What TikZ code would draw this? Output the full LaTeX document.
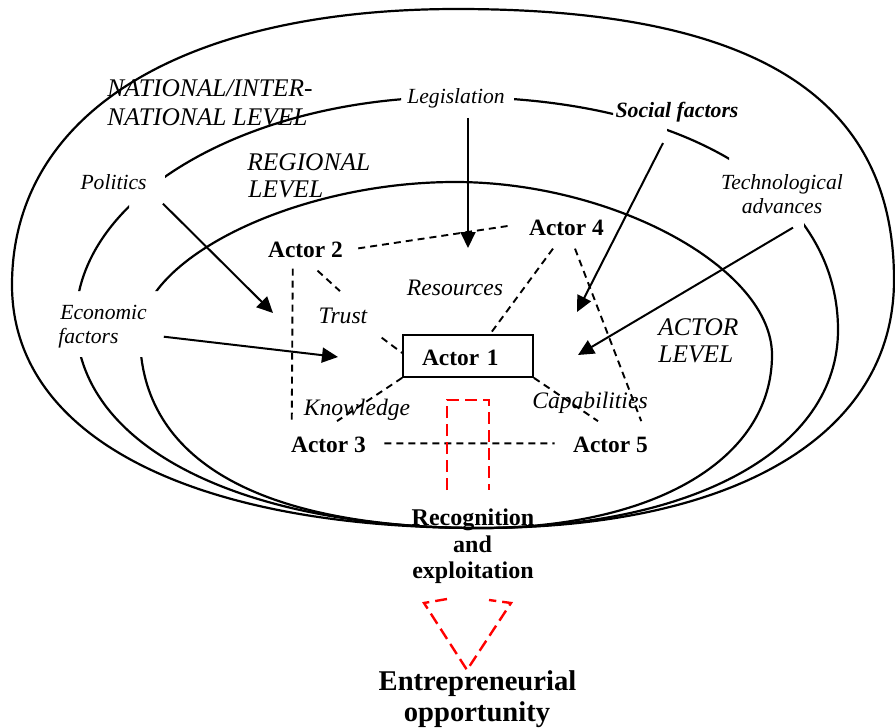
\documentclass[tikz,border=0pt]{standalone}
\usepackage{fontspec}
\setmainfont{Liberation Serif}
\usetikzlibrary{arrows.meta}
\begin{document}
\begin{tikzpicture}[x=0.5pt,y=-0.5pt,
  curve/.style={line width=1.1pt,line join=round},
  arr/.style={line width=1pt,-{Triangle[length=8pt,width=7.5pt]}},
  dashln/.style={line width=0.95pt,dash pattern=on 3.5pt off 2.5pt},
  reddash/.style={line width=1.2pt,draw=red,dash pattern=on 6pt off 3pt},
  lbl/.style={inner sep=0pt,font=\fontsize{10.8}{13}\selectfont\itshape},
  blbl/.style={inner sep=0pt,font=\fontsize{10.9}{13}\selectfont\bfseries\itshape},
  ilbl/.style={inner sep=0pt,font=\fontsize{11.8}{14}\selectfont\itshape},
  lvl/.style={inner sep=0pt,font=\fontsize{12.7}{15}\selectfont\itshape},
  actor/.style={inner sep=0pt,font=\fontsize{11.7}{14}\selectfont\bfseries},
  outcome/.style={inner sep=0pt,font=\fontsize{12}{14}\selectfont\bfseries},
  bigout/.style={inner sep=0pt,font=\fontsize{14.3}{16}\selectfont\bfseries},
]
\useasboundingbox (0,0) rectangle (895,728);

% outer level boundary
\draw[curve] (457,9) .. controls (754,9) and (894,96) .. (894,280)
  .. controls (894,434) and (737,528) .. (480,528)
  .. controls (190,528) and (12,436) .. (12,285)
  .. controls (12,114) and (181,9) .. (457,9) -- cycle;

% inner boundaries, broken where the factor labels sit
\begin{scope}
  \clip (0,0) -- (895,0) -- (895,728) -- (0,728) -- cycle
        (40,291) -- (40,357) -- (175,357) -- (175,291) -- cycle
        (129,150) -- (129,225) -- (165,225) -- (165,150) -- cycle
        (401,75) -- (401,120) -- (514,120) -- (514,75) -- cycle
        (613,100) -- (613,150) -- (667,150) -- (667,100) -- cycle
        (729,140) -- (729,245) -- (804,245) -- (804,140) -- cycle;
  % national / regional boundary
  \draw[curve] (455,97) .. controls (685,97) and (838,190) .. (838,330)
    .. controls (838,449) and (695,528) .. (480,528)
    .. controls (238,528) and (76,445) .. (76,320)
    .. controls (76,197) and (247,97) .. (455,97) -- cycle;
  % regional / actor boundary
  \draw[curve] (455,182) .. controls (613,182) and (772,268) .. (772,355)
    .. controls (772,459) and (655,528) .. (480,528)
    .. controls (259,528) and (140,460) .. (140,335)
    .. controls (140,258) and (297,182) .. (455,182) -- cycle;
\end{scope}

% level labels
\node[lvl, anchor=base west] (nat1) at (107,97) {NATIONAL/INTER-};
\node[lvl, anchor=base west] (nat2) at (107,125) {NATIONAL LEVEL};
\node[lvl, anchor=base west] (reg1) at (247,170) {REGIONAL};
\node[lvl, anchor=base west] (reg2) at (248,197) {LEVEL};
\node[lvl, anchor=base west] (actl1) at (658,335) {ACTOR};
\node[lvl, anchor=base west] (actl2) at (658,362) {LEVEL};

% factor labels
\node[lbl, anchor=base] (legis) at (456,103) {Legislation};
\node[blbl, anchor=base] (social) at (677,117) {Social factors};
\node[lbl, anchor=base] (politics) at (113.5,189) {Politics};
\node[lbl, anchor=base west] (econ1) at (60,319) {Economic};
\node[lbl, anchor=base west] (econ2) at (58,343) {factors};
\node[lbl, anchor=base] (tech1) at (782,189) {Technological};
\node[lbl, anchor=base] (tech2) at (782,213) {advances};

% actors
\node[actor, anchor=base] (a2) at (305.5,257) {Actor 2};
\node[actor, anchor=base] (a4) at (566.5,235) {Actor 4};
\node[actor, anchor=base] (a3) at (328.5,452) {Actor 3};
\node[actor, anchor=base] (a5) at (610.5,452) {Actor 5};
\node[actor, draw, line width=0.8pt, inner xsep=9.5pt, inner ysep=0pt,
      text width=46pt, align=left, text height=9.5pt, text depth=0pt,
      minimum height=21pt] (a1) at (468,356) {Actor 1};

% link labels
\node[ilbl, anchor=base] (res) at (455,295) {Resources};
\node[ilbl, anchor=base] (trust) at (343,323) {Trust};
\node[ilbl, anchor=base] (know) at (357,415) {Knowledge};
\node[ilbl, anchor=base] (cap) at (590,408) {Capabilities};

% outcome labels
\node[outcome, anchor=base] (rec1) at (473,525) {Recognition};
\node[outcome, anchor=base] (rec2) at (472.5,552) {and};
\node[outcome, anchor=base] (rec3) at (473,578) {exploitation};
\node[bigout, anchor=base] (opp1) at (477.5,690) {Entrepreneurial};
\node[bigout, anchor=base] (opp2) at (477,721) {opportunity};

% dashed actor links
\draw[dashln] ([shift={(15,-1)}]a2.east) -- ([shift={(-17,-2)}]a4.west);
\draw[dashln] ([shift={(25,11)}]a2.south west) -- ([shift={(1,-14)}]a3.north west);
\draw[dashln] ([shift={(12,13)}]a2.south) -- ([shift={(-3,-16)}]trust.north);
\draw[dashln] ([shift={(14,14)}]trust.south east) -- ([shift={(0,-3)}]a1.west);
\draw[dashln] ([shift={(-13.5,13)}]a4.south) -- ([shift={(22,0)}]a1.north);
\draw[dashln] ([shift={(8.5,13)}]a4.south) -- ([shift={(-7,-15)}]a5.north east);
\draw[dashln] (a1.south west) -- ([shift={(8.5,-15)}]a3.north);
\draw[dashln] (a1.south east) -- ([shift={(-12.5,-15)}]a5.north);
\draw[dashln] ([shift={(18,-1)}]a3.east) -- ([shift={(-18,-1)}]a5.west);

% influence arrows
\coordinate (tipP) at (273,313);
\coordinate (tipE) at (338,357);
\coordinate (tipL) at (468,248);
\coordinate (tipS) at (577,312);
\coordinate (tipT) at (578,355);
\draw[arr] ([shift={(16,14)}]politics.south east) -- (tipP);
\draw[arr] ([shift={(45,-1)}]econ2.east) -- (tipE);
\draw[arr] ([shift={(12,10)}]legis.south) -- (tipL);
\draw[arr] ([shift={(-14,21)}]social.south) -- (tipS);
\draw[arr] ([shift={(11,14)}]tech2.south) -- (tipT);

% red dashed block arrow
\draw[reddash] (447,490) -- (447,400) -- (489,400) -- (489,490);
\draw[reddash] (447,599) -- (424,603) -- (467,670) -- (511,603) -- (489,600);
\end{tikzpicture}
\end{document}
